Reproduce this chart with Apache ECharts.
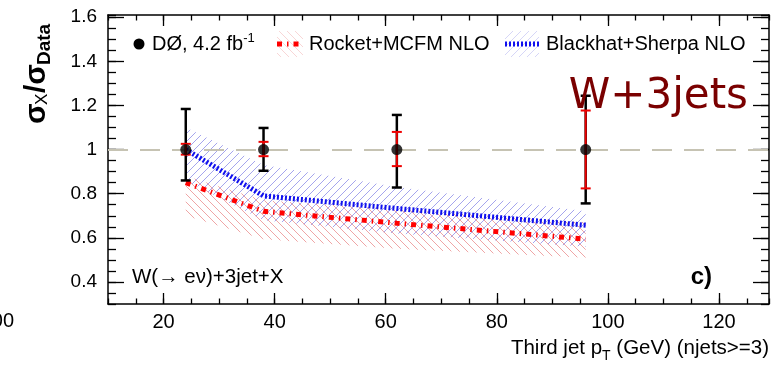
<!DOCTYPE html>
<html>
<head>
<meta charset="utf-8">
<script src="https://cdn.jsdelivr.net/npm/echarts@6/dist/echarts.min.js"></script>
<style>
html,body{margin:0;padding:0;background:#fff;}
#chart{width:775px;height:365px;}
</style>
</head>
<body>
<div id="chart"></div>
<script>
// ---- data ----
const binCenters = [24, 38, 62, 96];
const dataRatio = [1, 1, 1, 1];
const totalErrUp = [1.184, 1.098, 1.157, 1.244];
const totalErrDown = [0.86, 0.904, 0.828, 0.756];
const statErrUp = [1.026, 1.035, 1.08, 1.177];
const statErrDown = [0.977, 0.97, 0.925, 0.824];
const blackhat = [1.0, 0.79, 0.733, 0.657];
const blackhatUp = [1.10, 0.93, 0.83, 0.72];
const blackhatDown = [0.86, 0.68, 0.62, 0.56];
const rocket = [0.85, 0.72, 0.666, 0.594];
const rocketUp = [0.88, 0.77, 0.73, 0.67];
const rocketDown = [0.70, 0.593, 0.55, 0.51];
const xTickLabels = [20, 40, 60, 80, 100, 120];
const yTickLabels = [0.4, 0.6, 0.8, 1, 1.2, 1.4, 1.6];

const FONT = '"Liberation Sans", Arial, Helvetica, sans-serif';

function hatch(color, dir) {
  const c = document.createElement('canvas');
  const s = 8;
  c.width = s; c.height = s;
  const g = c.getContext('2d');
  g.strokeStyle = color; g.lineWidth = 1;
  g.beginPath();
  if (dir > 0) {
    g.moveTo(0, s); g.lineTo(s, 0);
    g.moveTo(-2, 2); g.lineTo(2, -2);
    g.moveTo(s - 2, s + 2); g.lineTo(s + 2, s - 2);
  } else {
    g.moveTo(0, 0); g.lineTo(s, s);
    g.moveTo(-2, s - 2); g.lineTo(2, s + 2);
    g.moveTo(s - 2, -2); g.lineTo(s + 2, 2);
  }
  g.stroke();
  return c;
}
const blueHatch = hatch('rgba(105,105,225,0.6)', 1);
const redHatch = hatch('rgba(228,105,105,0.6)', -1);

const pts = (ys) => binCenters.map((x, i) => [x, ys[i]]);

const chart = echarts.init(document.getElementById('chart'), null, {renderer: 'canvas'});

const axLine = {show: true, onZero: false, lineStyle: {color: '#000', width: 1.5}};
function xAx(pos, major) {
  const o = {
    type: 'value', min: 10, max: 129, position: pos,
    axisLine: major ? axLine : {show: false},
    splitLine: {show: false},
    axisLabel: {show: false},
    axisTick: {show: true, inside: true, length: major ? 11 : 5.5, lineStyle: {color: '#000', width: 1.3}}
  };
  if (major) {
    o.axisTick.customValues = xTickLabels;
    if (pos === 'bottom') {
      o.axisLabel = {show: true, customValues: xTickLabels, fontSize: 20, color: '#000', fontFamily: FONT, margin: 8};
    }
  } else {
    o.interval = 5;
  }
  return o;
}
function yAx(pos, major) {
  const o = {
    type: 'value', min: 0.3, max: 1.61, position: pos,
    axisLine: major ? axLine : {show: false},
    splitLine: {show: false},
    axisLabel: {show: false},
    axisTick: {show: true, inside: true, length: major ? 16 : 8, lineStyle: {color: '#000', width: 1.3}}
  };
  if (major) {
    o.axisTick.customValues = yTickLabels;
    if (pos === 'left') {
      o.axisLabel = {show: true, customValues: yTickLabels, fontSize: 19, color: '#000', fontFamily: FONT, margin: 11};
    }
  } else {
    o.interval = 0.05;
  }
  return o;
}

const band = (up, down, pattern) => ({
  type: 'custom',
  z: 1,
  silent: true,
  data: [[binCenters[0], up[0]]],
  renderItem: function (params, api) {
    const top = binCenters.map((x, i) => api.coord([x, up[i]]));
    const bot = binCenters.map((x, i) => api.coord([x, down[i]])).reverse();
    return {type: 'polygon', shape: {points: top.concat(bot)},
      style: {fill: {image: pattern, repeat: 'repeat'}, stroke: null}};
  }
});

const errBar = (color, lw, upArr, downArr) => ({
  type: 'custom',
  z: 5,
  data: binCenters.map((x, i) => [x, dataRatio[i], downArr[i], upArr[i]]),
  renderItem: function (params, api) {
    const top = api.coord([api.value(0), api.value(3)]);
    const bot = api.coord([api.value(0), api.value(2)]);
    const hw = 5;
    const st = {stroke: color, lineWidth: lw};
    return {type: 'group', children: [
      {type: 'line', shape: {x1: top[0], y1: top[1], x2: bot[0], y2: bot[1]}, style: st},
      {type: 'line', shape: {x1: top[0] - hw, y1: top[1], x2: top[0] + hw, y2: top[1]}, style: st},
      {type: 'line', shape: {x1: bot[0] - hw, y1: bot[1], x2: bot[0] + hw, y2: bot[1]}, style: st}
    ]};
  }
});

const option = {
  animation: false,
  backgroundColor: '#fff',
  grid: {left: 108, right: 6, top: 15, bottom: 61, containLabel: false},
  xAxis: [xAx('bottom', true), xAx('bottom', false), xAx('top', true), xAx('top', false)],
  yAxis: [yAx('left', true), yAx('left', false), yAx('right', true), yAx('right', false)],
  series: [
    band(rocketUp, rocketDown, redHatch),
    band(blackhatUp, blackhatDown, blueHatch),
    {type: 'line', name: 'Rocket+MCFM NLO', data: pts(rocket), symbol: 'none', z: 3,
     lineStyle: {color: '#ff0000', width: 5, type: [5, 5, 1.5, 5], cap: 'butt'}},
    {type: 'line', name: 'Blackhat+Sherpa NLO', data: pts(blackhat), symbol: 'none', z: 3,
     lineStyle: {color: '#1010ee', width: 5, type: [2, 2], cap: 'butt'}},
    errBar('#000', 2.5, totalErrUp, totalErrDown),
    errBar('#ee0000', 2, statErrUp, statErrDown),
    {type: 'scatter', name: 'DØ', data: pts(dataRatio), symbol: 'circle', symbolSize: 11, z: 6,
     itemStyle: {color: '#000'},
     markLine: {silent: true, symbol: 'none', label: {show: false}, z: 2,
       lineStyle: {color: '#c6c3b3', width: 2, type: [20, 12]}, data: [{yAxis: 1}]}}
  ],
  graphic: [
    // y axis title
    {type: 'text', x: 37, y: 124, rotation: Math.PI / 2, z: 10,
     style: {text: 'σ', font: 'bold 30px ' + FONT, fill: '#000', textAlign: 'left', textVerticalAlign: 'middle'}},
    {type: 'text', x: 42, y: 105, rotation: Math.PI / 2, z: 10,
     style: {text: 'X', font: '17px ' + FONT, fill: '#000', textAlign: 'left', textVerticalAlign: 'middle'}},
    {type: 'text', x: 37, y: 93, rotation: Math.PI / 2, z: 10,
     style: {text: '/σ', font: 'bold 30px ' + FONT, fill: '#000', textAlign: 'left', textVerticalAlign: 'middle'}},
    {type: 'text', x: 45, y: 65, rotation: Math.PI / 2, z: 10,
     style: {text: 'Data', font: 'bold 19px ' + FONT, fill: '#000', textAlign: 'left', textVerticalAlign: 'middle'}},
    // x axis title
    {type: 'text', x: 769, y: 348, z: 10,
     style: {rich: {n: {font: '20.5px ' + FONT, fill: '#000'}, s: {font: '14px ' + FONT, fill: '#000', padding: [16, 0, 0, 0]}},
       text: '{n|Third jet p}{s|T}{n| (GeV) (njets>=3)}', textAlign: 'right', textVerticalAlign: 'middle'}},
    // clipped neighbour label
    {type: 'text', x: 14, y: 321, z: 10,
     style: {text: '100', font: '20px ' + FONT, fill: '#000', textAlign: 'right', textVerticalAlign: 'middle'}},
    // legend
    {type: 'circle', shape: {cx: 139, cy: 44, r: 5.5}, style: {fill: '#000'}, z: 10},
    {type: 'text', x: 152, y: 44, z: 10,
     style: {rich: {n: {font: '20px ' + FONT, fill: '#000'}, s: {font: '13px ' + FONT, fill: '#000', padding: [0, 0, 12, 0]}},
       text: '{n|DØ, 4.2 fb}{s|-1}', textAlign: 'left', textVerticalAlign: 'middle'}},
    {type: 'rect', shape: {x: 277, y: 31, width: 26, height: 26}, style: {fill: {image: redHatch, repeat: 'repeat'}, opacity: 0.45}, z: 9},
    {type: 'line', shape: {x1: 277, y1: 44, x2: 303, y2: 44}, style: {stroke: '#ff0000', lineWidth: 5, lineDash: [5, 5, 1.5, 5]}, z: 10},
    {type: 'text', x: 309, y: 44, z: 10,
     style: {text: 'Rocket+MCFM NLO', font: '20px ' + FONT, fill: '#000', textAlign: 'left', textVerticalAlign: 'middle'}},
    {type: 'rect', shape: {x: 505, y: 31, width: 34, height: 26}, style: {fill: {image: blueHatch, repeat: 'repeat'}, opacity: 0.45}, z: 9},
    {type: 'line', shape: {x1: 505, y1: 44, x2: 539, y2: 44}, style: {stroke: '#1010ee', lineWidth: 5, lineDash: [2, 2]}, z: 10},
    {type: 'text', x: 546, y: 44, z: 10,
     style: {text: 'Blackhat+Sherpa NLO', font: '20px ' + FONT, fill: '#000', textAlign: 'left', textVerticalAlign: 'middle'}},
    // labels inside the frame
    {type: 'text', x: 748, y: 97, z: 20,
     style: {text: 'W+3jets', font: '42px "DejaVu Sans", sans-serif', fill: '#7a0000', textAlign: 'right', textVerticalAlign: 'middle'}},
    {type: 'text', x: 132, y: 277, z: 10,
     style: {text: 'W(→ eν)+3jet+X', font: '20.5px ' + FONT, fill: '#000', textAlign: 'left', textVerticalAlign: 'middle'}},
    {type: 'text', x: 712, y: 277, z: 10,
     style: {text: 'c)', font: 'bold 24px ' + FONT, fill: '#000', textAlign: 'right', textVerticalAlign: 'middle'}}
  ]
};
chart.setOption(option);
</script>
</body>
</html>
